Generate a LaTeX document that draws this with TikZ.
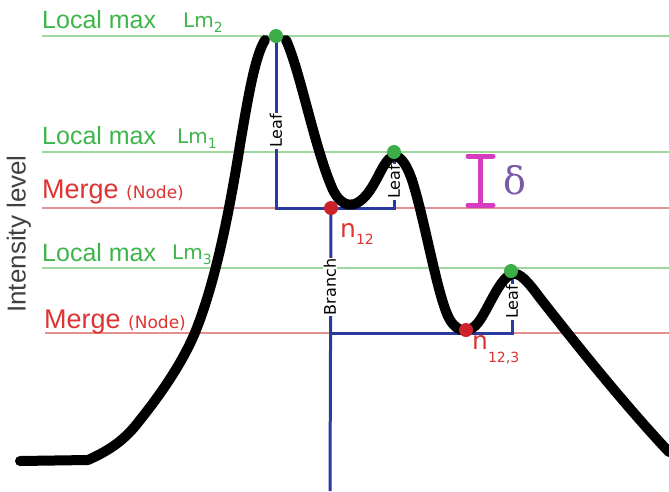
\documentclass[tikz,border=0pt]{standalone}
\usepackage{fontspec}
\setmainfont{Liberation Sans}
\newfontfamily\dejavu{DejaVu Sans}
\newfontfamily\dserif{DejaVu Serif}
\definecolor{glight}{HTML}{9ED89E}
\definecolor{gtext}{HTML}{3DB54A}
\definecolor{rlight}{HTML}{E39090}
\definecolor{rtext}{HTML}{DD3333}
\definecolor{bline}{HTML}{2B3A9E}
\definecolor{gdot}{HTML}{3BAF45}
\definecolor{rdot}{HTML}{CC2229}
\definecolor{mag}{HTML}{D63CC0}
\definecolor{purp}{HTML}{7A5AA8}
\tikzset{
  gline/.style={glight, line width=2.2pt},
  rline/.style={rlight, line width=2.2pt},
  bl/.style={bline, line width=3pt},
  curve/.style={black, line width=10pt, line cap=round, line join=round},
  gd/.style={circle, fill=gdot, inner sep=0pt, minimum size=14pt},
  rd/.style={circle, fill=rdot, inner sep=0pt, minimum size=14pt},
  lmtxt/.style={anchor=base west, inner sep=0pt, text=gtext, font=\fontsize{25}{25}\selectfont},
  lmsym/.style={anchor=base west, inner sep=0pt, text=gtext, font=\dejavu\fontsize{20}{20}\selectfont},
  mgtxt/.style={anchor=base west, inner sep=0pt, text=rtext, font=\fontsize{27}{27}\selectfont},
  vlab/.style={rotate=90, fill=white, inner sep=1pt, text=black, font=\dejavu\fontsize{16}{16}\selectfont},
  ntxt/.style={anchor=base west, inner sep=0pt, text=rtext, font=\dejavu\fontsize{25}{25}\selectfont},
}
\newcommand{\lmsub}[1]{\raisebox{-5pt}{\fontsize{14}{14}\selectfont #1}}
\newcommand{\nodesmall}{{\dejavu\fontsize{17}{17}\selectfont (Node)}}
\begin{document}
\begin{tikzpicture}[x=1pt,y=-1pt]
\useasboundingbox (0,0) rectangle (669,491);
% horizontal level lines
\coordinate (g2a) at (42,36);  \coordinate (g2b) at (669,36);
\coordinate (g1a) at (42,152); \coordinate (g1b) at (669,152);
\coordinate (r1a) at (42,208); \coordinate (r1b) at (669,208);
\coordinate (g3a) at (42,268); \coordinate (g3b) at (669,268);
\coordinate (r2a) at (45,333); \coordinate (r2b) at (669,333);
\draw[gline] (g2a) -- (g2b);
\draw[gline] (g1a) -- (g1b);
\draw[rline] (r1a) -- (r1b);
\draw[gline] (g3a) -- (g3b);
\draw[rline] (r2a) -- (r2b);
% labels
\node[lmtxt] (t1) at (42,28) {Local max};
\node[lmsym] (s1) at (183,27) {Lm\lmsub{2}};
\node[lmtxt] (t2) at (42,144) {Local max};
\node[lmsym] (s2) at (177,143) {Lm\lmsub{1}};
\node[mgtxt] (t3) at (42,198) {Merge \nodesmall};
\node[lmtxt] (t4) at (42,261) {Local max};
\node[lmsym] (s4) at (172,259) {Lm\lmsub{3}};
\node[mgtxt] (t5) at (44,328) {Merge \nodesmall};
\node[rotate=90, text=black!75, font=\fontsize{26}{26}\selectfont, inner sep=0pt] (il) at (19,234) {Intensity level};
% tree
\coordinate (p1) at (276,208);
\coordinate (p2) at (394,208);
\coordinate (p3) at (330,333);
\coordinate (p4) at (512,333);
\coordinate (root) at (330,491);
\coordinate (m1) at (331,208);
\draw[bl] (276,36) -- (p1) -- (p2) -- (394,152);
\draw[bl] (m1) -- (root);
\draw[bl] (p3) -- (p4) -- (512,271);
\node[vlab] (leaf1) at (276,131) {Leaf};
\node[vlab] (leaf2) at (394,182) {Leaf};
\node[vlab] (leaf3) at (512,302) {Leaf};
\node[vlab] (branch) at (330,287) {Branch};
% curve
\draw[curve] (20,461) -- (88,460)
  .. controls (110,450) and (125,440) .. (140,420)
  .. controls (160,395) and (185,360) .. (198,325)
  .. controls (215,280) and (228,220) .. (240,145)
  .. controls (250,85) and (256,55) .. (265,40);
\draw[curve] (286,40) .. controls (300,70) and (315,150) .. (333,190)
  .. controls (342,208) and (355,210) .. (368,193)
  .. controls (378,180) and (384,160) .. (392,157)
  .. controls (398,154) and (405,160) .. (412,180)
  .. controls (425,220) and (438,300) .. (450,320)
  .. controls (458,333) and (470,335) .. (480,320)
  .. controls (490,305) and (500,278) .. (512,274)
  .. controls (520,272) and (528,282) .. (540,298)
  .. controls (565,330) and (620,400) .. (669,452);
% dots
\node[gd] (lm2) at (276,36) {};
\node[gd] (lm1) at (394,152) {};
\node[gd] (lm3) at (511,271) {};
\node[rd] (n12) at (331,208) {};
\node[rd] (n123) at (466,330) {};
% node labels
\node[ntxt] (n12t) at (340,237) {n\raisebox{-7pt}{\fontsize{14}{14}\selectfont 12}};
\node[ntxt] (n123t) at (472,349) {n\raisebox{-13pt}{\fontsize{14}{14}\selectfont 12,3}};
% delta
\coordinate (da) at (480,156);
\coordinate (db) at (480,205);
\draw[mag, line width=5pt] (da) -- (db);
\draw[mag, line width=5pt, line cap=round] (468,156) -- (493,156);
\draw[mag, line width=5pt, line cap=round] (468,205) -- (493,205);
\node[text=purp, font=\dserif\fontsize{38}{38}\selectfont, inner sep=0pt, anchor=base] (delta) at (515,194) {δ};
\end{tikzpicture}
\end{document}
